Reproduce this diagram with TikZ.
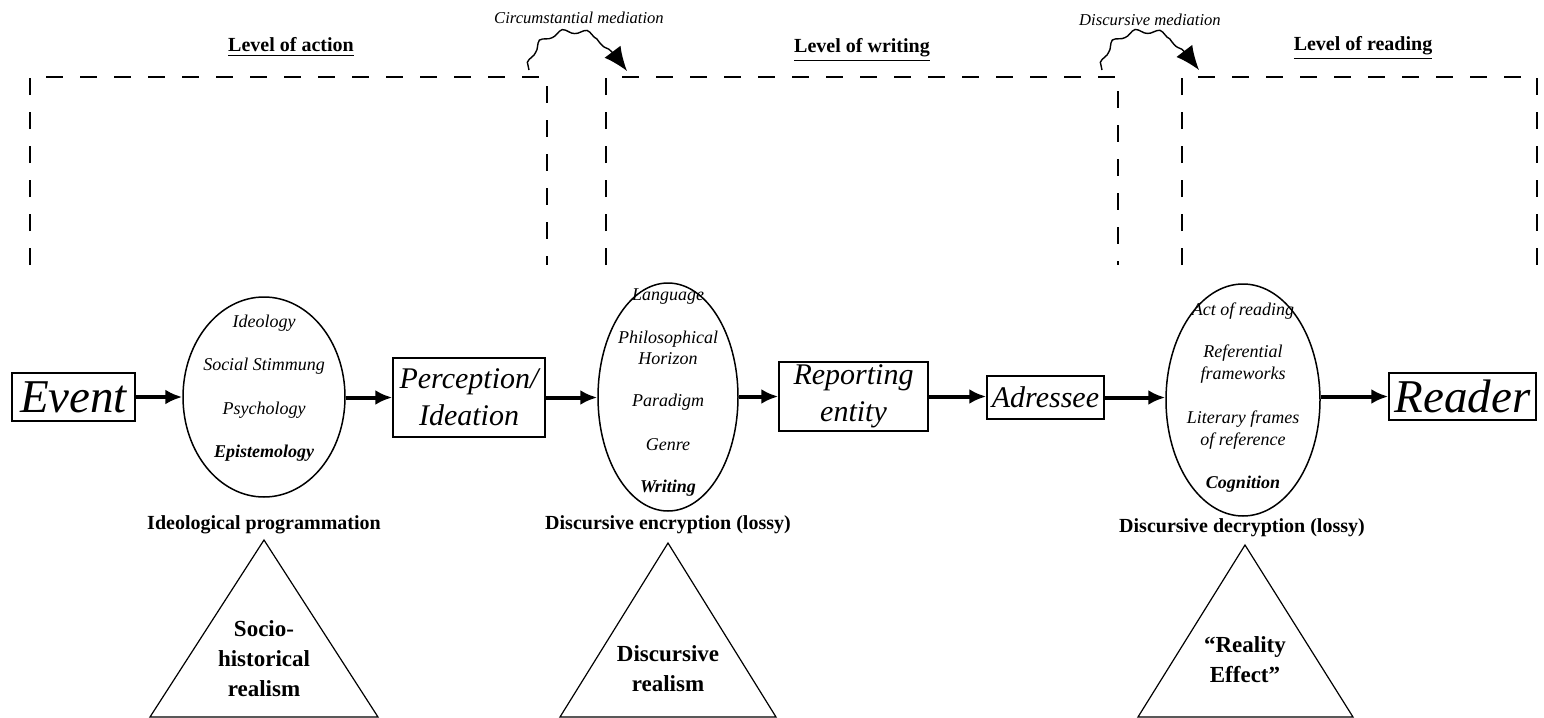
\documentclass[tikz,border=0pt]{standalone}
\usepackage{fontspec}
\setmainfont{Liberation Serif}
\usetikzlibrary{shapes.geometric,arrows.meta,decorations.pathmorphing}
\begin{document}
\begin{tikzpicture}[x=0.5pt,y=-0.5pt,
  box/.style={draw,line width=0.75pt,inner sep=0pt,align=center},
  oval/.style={draw,ellipse,line width=0.75pt,inner sep=0pt},
  flow/.style={line width=2pt,-{Latex[length=8.5pt,width=7.5pt]}},
  big/.style={font=\fontsize{23.5}{26}\selectfont\itshape},
  mid/.style={font=\fontsize{15}{18.5}\selectfont\itshape},
  inn/.style={font=\fontsize{9}{10.6}\selectfont\itshape,align=center,inner sep=0pt},
  innb/.style={font=\fontsize{9}{10.6}\selectfont\bfseries\itshape,inner sep=0pt},
  captxt/.style={font=\fontsize{10}{12}\selectfont\bfseries,inner sep=0pt},
  tri/.style={line width=0.6pt},
  tritext/.style={font=\fontsize{11.5}{15}\selectfont\bfseries,align=center,inner sep=0pt},
  level/.style={font=\fontsize{10}{12}\selectfont\bfseries,inner sep=0pt},
  medtext/.style={font=\fontsize{8.3}{10}\selectfont\itshape,inner sep=0pt},
  frame/.style={line width=0.7pt,dash pattern=on 8.5pt off 8.5pt},
  wave/.style={line width=0.7pt,decorate,decoration={snake,amplitude=1.2pt,segment length=12pt,post length=10pt},-{Latex[length=12pt,width=10pt]}}
]
\useasboundingbox (0,0) rectangle (1544,718);

% dashed level frames
\draw[frame] (30,265) -- (30,77) -- (547,77) -- (547,265);
\draw[frame] (606,265) -- (606,77) -- (1118,77) -- (1118,265);
\draw[frame] (1182,265) -- (1182,77) -- (1537,77) -- (1537,265);

% level labels
\node[level] (lv1) at (291,47) {\underline{Level of action}};
\node[level] (lv2) at (862,50) {\underline{Level of writing}};
\node[level] (lv3) at (1363,48) {\underline{Level of reading}};

% mediations
\coordinate (m1s) at (529,70);
\coordinate (m1e) at (627,71);
\coordinate (m2s) at (1102,70);
\coordinate (m2e) at (1199,70);
\draw[wave] (m1s) .. controls (533,30) and (600,22) .. (m1e);
\draw[wave] (m2s) .. controls (1106,30) and (1172,22) .. (m2e);
\node[medtext] (md1) at (579,18) {Circumstantial mediation};
\node[medtext] (md2) at (1150,20) {Discursive mediation};

% main chain
\node[box,big,minimum width=61.5pt,minimum height=24pt] (ev) at (73.5,397) {Event};
\node[oval,minimum width=81pt,minimum height=100pt] (e1) at (264,397) {};
\node[box,mid,minimum width=76pt,minimum height=39.5pt] (pe) at (469,397.5) {Perception/\\Ideation};
\node[oval,minimum width=70pt,minimum height=114pt] (e2) at (668,397) {};
\node[box,mid,minimum width=74.5pt,minimum height=34.5pt] (re) at (853.5,396.5) {Reporting\\entity};
\node[box,mid,minimum width=58.5pt,minimum height=21.5pt] (ad) at (1045.5,397.5) {Adressee};
\node[oval,minimum width=77pt,minimum height=116pt] (e3) at (1243,400) {};
\node[box,big,minimum width=73.5pt,minimum height=23.5pt] (rd) at (1462.5,396.5) {Reader};

\draw[flow] (ev.east) -- (ev.east -| e1.west);
\draw[flow] (e1.east |- pe.west) -- (pe.west);
\draw[flow] (pe.east) -- (pe.east -| e2.west);
\draw[flow] (e2.east |- re.west) -- (re.west);
\draw[flow] (re.east) -- (re.east -| ad.west);
\draw[flow] (ad.east) -- (ad.east -| e3.west);
\draw[flow] (e3.east |- rd.west) -- (rd.west);

% ellipse contents
\node[inn] (e1a) at (264,323) {Ideology};
\node[inn] (e1b) at (264,366) {Social Stimmung};
\node[inn] (e1c) at (264,410) {Psychology};
\node[innb] (e1d) at (264,453) {Epistemology};

\node[inn] (e2a) at (668,297) {Language};
\node[inn] (e2b) at (668,348) {Philosophical\\Horizon};
\node[inn] (e2c) at (668,402) {Paradigm};
\node[inn] (e2d) at (668,445) {Genre};
\node[innb] (e2e) at (668,488) {Writing};

\node[inn] (e3a) at (1243,311) {Act of reading};
\node[inn] (e3b) at (1243,364) {Referential\\frameworks};
\node[inn] (e3c) at (1243,430) {Literary frames\\of reference};
\node[innb] (e3d) at (1243,484) {Cognition};

% captions
\node[captxt] (c1) at (264,525) {Ideological programmation};
\node[captxt] (c2) at (668,525) {Discursive encryption (lossy)};
\node[captxt] (c3) at (1242,528) {Discursive decryption (lossy)};

% triangles
\coordinate (t1) at (264,540);
\coordinate (t2) at (668,543);
\coordinate (t3) at (1245,545);
\draw[tri] (t1) -- (150,717) -- (378,717) -- cycle;
\draw[tri] (t2) -- (560,717) -- (776,717) -- cycle;
\draw[tri] (t3) -- (1138,717) -- (1353,717) -- cycle;
\node[tritext] (tt1) at (264,659) {Socio-\\historical\\realism};
\node[tritext] (tt2) at (668,669) {Discursive\\realism};
\node[tritext] (tt3) at (1245,660) {“Reality\\Effect”};
\end{tikzpicture}
\end{document}
